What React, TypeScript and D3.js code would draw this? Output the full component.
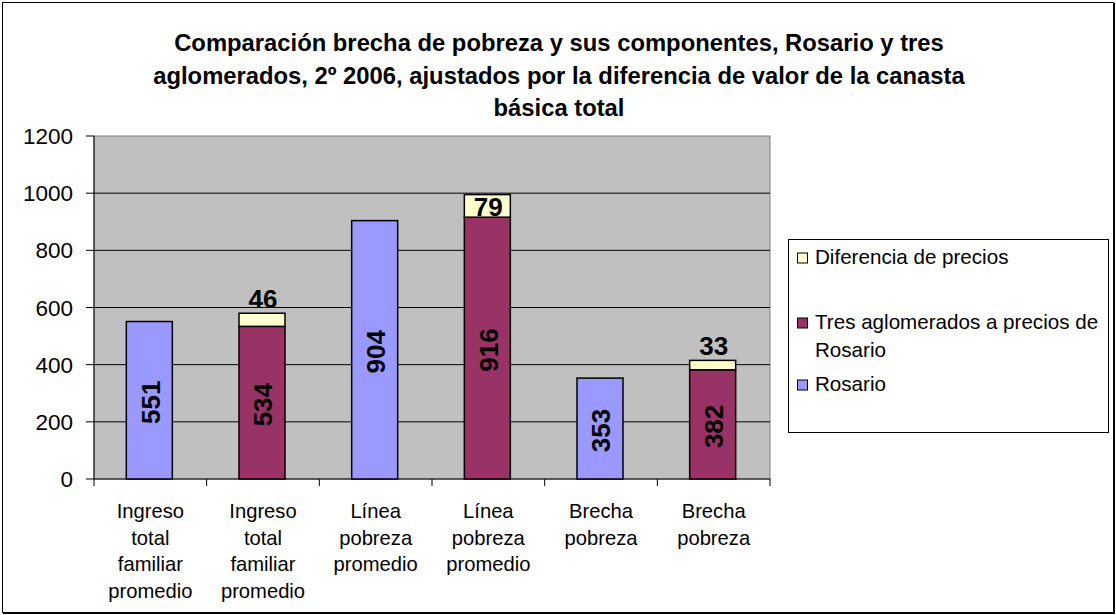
import React from "react";
import * as d3 from "d3";

const categories: string[][] = [
  ["Ingreso", "total", "familiar", "promedio"],
  ["Ingreso", "total", "familiar", "promedio"],
  ["Línea", "pobreza", "promedio"],
  ["Línea", "pobreza", "promedio"],
  ["Brecha", "pobreza"],
  ["Brecha", "pobreza"],
];
const rosario = [551, 0, 904, 0, 353, 0];
const tresAglomerados = [0, 534, 0, 916, 0, 382];
const diferencia = [0, 46, 0, 79, 0, 33];
const yTicks = [0, 200, 400, 600, 800, 1000, 1200];
const titleLines = [
  "Comparación brecha de pobreza y sus componentes, Rosario y tres",
  "aglomerados, 2º 2006, ajustados por la diferencia de valor de la canasta",
  "básica total",
];
const seriesNames = ["Diferencia de precios", "Tres aglomerados a precios de Rosario", "Rosario"];

const COL_ROS = "#9999FF";
const COL_TRES = "#993366";
const COL_DIF = "#FFFFCC";
const FONT = "Arial, 'Liberation Sans', sans-serif";

export default function App() {
  const W = 1116, H = 615;
  const x0 = 94, x1 = 770, yTop = 136, yBot = 479;
  const y = d3.scaleLinear().domain([0, 1200]).range([yBot, yTop]);
  const x = d3.scaleBand<number>().domain(d3.range(categories.length)).range([x0, x1]);
  const bw = 46;
  const cx = (i: number) => (x(i) as number) + x.bandwidth() / 2 - 1;

  const bars: { i: number; v0: number; v1: number; color: string; label: number; kind: string }[] = [];
  categories.forEach((_, i) => {
    if (rosario[i] > 0) bars.push({ i, v0: 0, v1: rosario[i], color: COL_ROS, label: rosario[i], kind: "in" });
    if (tresAglomerados[i] > 0) bars.push({ i, v0: 0, v1: tresAglomerados[i], color: COL_TRES, label: tresAglomerados[i], kind: "in" });
    if (diferencia[i] > 0) {
      const base = tresAglomerados[i];
      bars.push({ i, v0: base, v1: base + diferencia[i], color: COL_DIF, label: diferencia[i], kind: "top" });
    }
  });

  const legendColors = [COL_DIF, COL_TRES, COL_ROS];

  return (
    <svg width={W} height={H} style={{ position: "absolute", left: 0, top: 0, background: "#fff" }} fontFamily={FONT}>
      <rect x={0} y={0} width={W} height={H} fill="#fff" />
      <rect x={2.5} y={2.5} width={1111} height={610} fill="none" stroke="#000" strokeWidth={1} />
      <line x1={1114.5} y1={3} x2={1114.5} y2={614} stroke="#000" strokeWidth={1} />
      <line x1={3} y1={613.5} x2={1115} y2={613.5} stroke="#000" strokeWidth={1} />

      {titleLines.map((t, k) => (
        <text key={k} x={559} y={51 + k * 32.5} textAnchor="middle" fontWeight="bold" fontSize={23.8} fill="#000">
          {t}
        </text>
      ))}

      <rect x={x0} y={yTop} width={x1 - x0} height={yBot - yTop} fill="#C0C0C0" stroke="#808080" strokeWidth={1} />
      {yTicks.filter((t) => t > 0 && t < 1200).map((t) => (
        <line key={t} x1={x0} x2={x1} y1={y(t)} y2={y(t)} stroke="#000" strokeWidth={1} />
      ))}
      <line x1={x0} x2={x0} y1={yTop} y2={yBot} stroke="#000" />
      <line x1={x0} x2={x1} y1={yBot} y2={yBot} stroke="#000" />
      {yTicks.map((t) => (
        <g key={t}>
          <line x1={86} x2={x0} y1={y(t)} y2={y(t)} stroke="#000" />
          <text x={73} y={y(t)} dy="0.36em" textAnchor="end" fontSize={22.5} fill="#000">
            {t}
          </text>
        </g>
      ))}
      {d3.range(categories.length + 1).map((k) => {
        const xx = k < categories.length ? (x(k) as number) : x1;
        return <line key={k} x1={xx} x2={xx} y1={yBot} y2={yBot + 7} stroke="#000" />;
      })}

      {bars.map((b, k) => (
        <rect key={k} x={cx(b.i) - bw / 2} y={y(b.v1)} width={bw} height={y(b.v0) - y(b.v1)} fill={b.color} stroke="#000" strokeWidth={1.5} />
      ))}
      {bars.map((b, k) => {
        if (b.kind === "in") {
          const my = (y(b.v0) + y(b.v1)) / 2;
          return (
            <text key={k} transform={`translate(${cx(b.i) + 1},${my + 2}) rotate(-90)`} textAnchor="middle" dy="0.36em" fontWeight="bold" fontSize={26} fill="#000">
              {b.label}
            </text>
          );
        }
        const inside = y(b.v0) - y(b.v1) > 20;
        const ty = inside ? (y(b.v0) + y(b.v1)) / 2 + 1 : y(b.v1) - 5;
        return (
          <text key={k} x={cx(b.i) + 1} y={ty} dy={inside ? "0.36em" : 0} textAnchor="middle" fontWeight="bold" fontSize={26} fill="#000">
            {b.label}
          </text>
        );
      })}

      {categories.map((lines, i) =>
        lines.map((l, j) => (
          <text key={`${i}-${j}`} x={(x(i) as number) + x.bandwidth() / 2} y={518 + j * 26.5} textAnchor="middle" fontSize={20.2} fill="#000">
            {l}
          </text>
        ))
      )}

      <rect x={788.5} y={239.5} width={320} height={193} fill="#fff" stroke="#000" strokeWidth={1} />
      {[
        { lines: [seriesNames[0]], y: 257 },
        { lines: ["Tres aglomerados a precios de", "Rosario"], y: 322 },
        { lines: [seriesNames[2]], y: 384 },
      ].map((it, k) => (
        <g key={k}>
          <rect x={797.5} y={it.y - 4} width={10} height={10} fill={legendColors[k]} stroke="#000" strokeWidth={1} />
          {it.lines.map((l, j) => (
            <text key={j} x={815} y={it.y + j * 27.5} dy="0.36em" fontSize={20.6} fill="#000">
              {l}
            </text>
          ))}
        </g>
      ))}
    </svg>
  );
}
